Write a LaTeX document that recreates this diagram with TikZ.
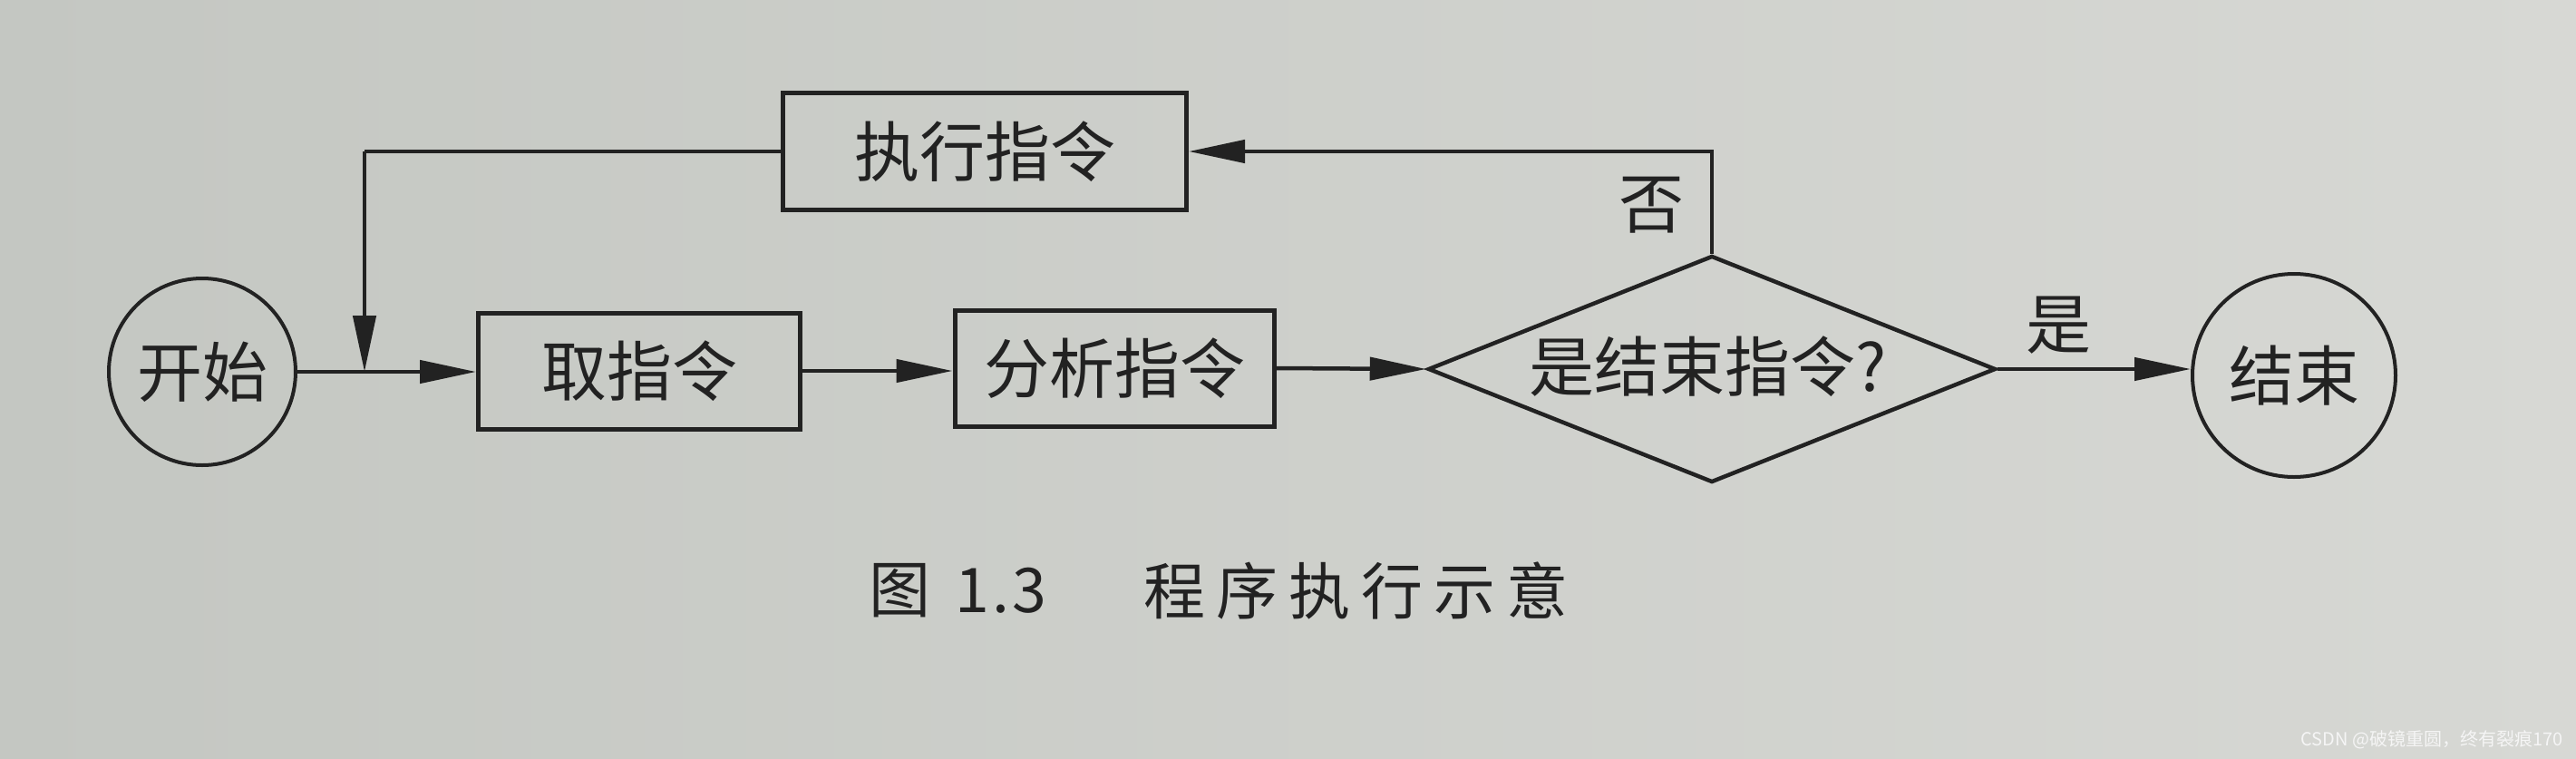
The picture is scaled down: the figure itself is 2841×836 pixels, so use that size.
\documentclass[tikz,border=0pt]{standalone}
\usepackage{fontspec}
\setmainfont{Noto Sans CJK SC}
\newfontfamily\cjk{Noto Sans CJK SC}
\usetikzlibrary{arrows.meta,shapes.geometric,calc}
\definecolor{ink}{RGB}{34,34,34}
\definecolor{paperL}{RGB}{196,199,194}
\definecolor{paperR}{RGB}{215,216,212}
\begin{document}
\begin{tikzpicture}[x=1pt,y=-1pt,
  every node/.style={text=ink, font=\cjk\fontsize{72}{80}\selectfont},
  box/.style={draw=ink, line width=5pt, rectangle, minimum width=#1, minimum height=128pt, inner sep=0pt},
  term/.style={draw=ink, line width=4pt, circle, minimum size=#1, inner sep=0pt},
  decide/.style={draw=ink, line width=4.5pt, diamond, minimum width=626pt, minimum height=250pt, inner sep=0pt},
  flow/.style={draw=ink, line width=4.5pt, -{Triangle[length=62pt,width=25pt]}},
  plain/.style={draw=ink, line width=4.5pt},
  caption/.style={font=\cjk\fontsize{68}{76}\selectfont, anchor=west},
  wmark/.style={font=\cjk\fontsize{20}{22}\selectfont, text=white!92!gray, anchor=west}
]
% paper background
\fill[left color=paperL, right color=paperR] (0,0) rectangle (2841,836);
\useasboundingbox (0,0) rectangle (2841,836);

% nodes
\node[term=206pt] (start) at (223,410) {开始};
\node[box=355pt] (fetch) at (705,409) {取指令};
\node[box=352pt] (analyze) at (1229,406) {分析指令};
\node[decide] (decision) at (1888,407) {};
\node (decisiontext) at (1884,404) {是结束指令?};
\node[term=224pt] (finish) at (2530,414) {结束};
\node[box=445pt, minimum height=129pt] (execute) at (1086,167) {执行指令};

% labels
\node (no) at (1821,226) {否};
\node (yes) at (2270,359) {是};

% junction for loop-back arrow
\coordinate (join) at (402,410);
\coordinate (corner) at (402,167);

% connectors
\draw[flow] (start.east) -- (start.east -| fetch.west);
\draw[flow] (fetch.east) -- (fetch.east -| analyze.west);
\draw[flow] (analyze.east) -- (decision.west);
\draw[flow] (decision.east) -- (decision.east -| finish.west);
\draw[flow] (decision.north) |- (execute.east);
\draw[plain] (execute.west) -- (corner);
\draw[flow] (corner) -- (join);

% caption
\node[caption] (capfig) at (955,651) {图};
\node[caption] (capnum) at (1050,651) {1\hspace{3pt}.\hspace{3pt}3};
\node[caption] (captitle) at (1258,651) {程\hspace{12pt}序\hspace{12pt}执\hspace{12pt}行\hspace{12pt}示\hspace{12pt}意};

% watermark
\node[wmark] (wm) at (2534,816) {CSDN @破镜重圆，终有裂痕170};
\end{tikzpicture}
\end{document}
